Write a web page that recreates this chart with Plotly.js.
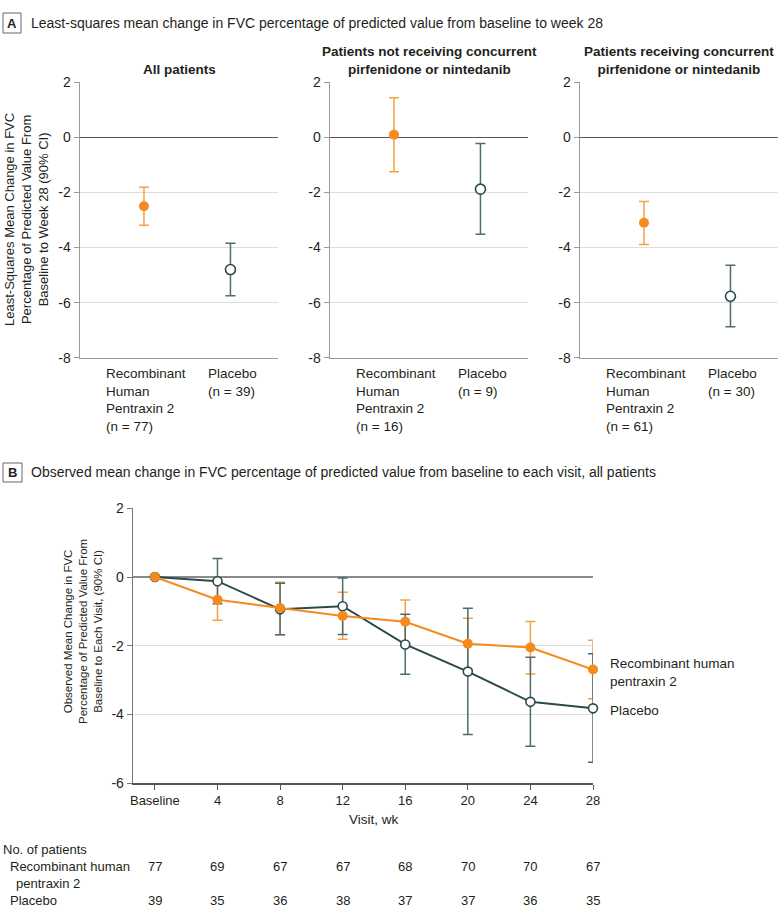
<!DOCTYPE html>
<html>
<head>
<meta charset="utf-8">
<script src="https://cdn.plot.ly/plotly-3.0.1.min.js"></script>
<style>html,body{margin:0;padding:0;background:#fff;}#chart{width:780px;height:919px;}</style>
</head>
<body>
<div id="chart"></div>
<script>
// ---------- Panel A data ----------
const groupTitlesA = ['All patients', 'Patients not receiving concurrent<br>pirfenidone or nintedanib', 'Patients receiving concurrent<br>pirfenidone or nintedanib'];
const armsA = ['Recombinant<br>Human<br>Pentraxin 2', 'Placebo'];
const rhpMeanA = [-2.50, 0.10, -3.10];
const rhpLowA  = [-3.19, -1.25, -3.89];
const rhpHighA = [-1.81, 1.44, -2.33];
const pboMeanA = [-4.80, -1.88, -5.77];
const pboLowA  = [-5.75, -3.52, -6.88];
const pboHighA = [-3.84, -0.22, -4.64];
const rhpNA = [77, 16, 61];
const pboNA = [39, 9, 30];
const yTicksA = [-8, -6, -4, -2, 0, 2];
const yTickTextA = ['-8', '-6', '-4', '-2', '0', '2'];

// ---------- Panel B data ----------
const visitWeeks = [0, 4, 8, 12, 16, 20, 24, 28];
const visitLabels = ['Baseline', '4', '8', '12', '16', '20', '24', '28'];
const rhpMeanB = [0, -0.66, -0.90, -1.13, -1.30, -1.94, -2.05, -2.69];
const rhpLowB  = [null, -1.26, -1.68, -1.81, -1.93, -2.68, -2.82, -3.54];
const rhpHighB = [null, -0.06, -0.15, -0.44, -0.67, -1.20, -1.29, -1.84];
const pboMeanB = [0, -0.12, -0.94, -0.85, -1.96, -2.75, -3.63, -3.82];
const pboLowB  = [null, -0.78, -1.68, -1.67, -2.83, -4.58, -4.92, -5.39];
const pboHighB = [null, 0.54, -0.18, -0.03, -1.08, -0.91, -2.33, -2.23];
const rhpNB = [77, 69, 67, 67, 68, 70, 70, 67];
const pboNB = [39, 35, 36, 38, 37, 37, 36, 35];
const yTicksB = [-6, -4, -2, 0, 2];
const yTickTextB = ['-6', '-4', '-2', '0', '2'];

// ---------- styling ----------
const W = 780, H = 919;
const px = v => v / W;
const py = v => 1 - v / H;
const ORANGE = '#F58A1F';
const ORANGE_ERR = '#F2A244';
const DARK = '#2C4A4C';
const DARK_ERR = '#4D6C6C';
const TXT = '#231f20';
const FONT = 'Liberation Sans, Arial, sans-serif';

const traces = [];
const annotations = [];
const shapes = [];
const layout = {
  width: W, height: H,
  margin: {l: 0, r: 0, t: 0, b: 0},
  paper_bgcolor: '#fff', plot_bgcolor: '#fff',
  showlegend: false,
  font: {family: FONT, size: 13, color: TXT},
  annotations: annotations, shapes: shapes
};

const domainsA = [[80, 278], [330, 528], [580, 778]];
domainsA.forEach((d, i) => {
  const sfx = i === 0 ? '' : String(i + 1);
  const xa = 'x' + sfx, ya = 'y' + sfx;
  layout['xaxis' + sfx] = {
    domain: [px(d[0]), px(d[1])], range: [-0.74, 1.55], anchor: ya,
    showline: true, linecolor: '#9a9a9a', linewidth: 1.5,
    showgrid: false, zeroline: false, showticklabels: false, ticks: '', fixedrange: true
  };
  layout['yaxis' + sfx] = {
    domain: [py(357.7), py(82.3)], range: [-8, 2], anchor: xa,
    tickvals: yTicksA, ticktext: yTickTextA, ticks: 'outside', ticklen: 5, tickcolor: '#9a9a9a', tickwidth: 1,
    showline: true, linecolor: '#9a9a9a', linewidth: 1.5,
    showgrid: true, gridcolor: '#dddddd', gridwidth: 1,
    zeroline: true, zerolinecolor: '#555', zerolinewidth: 1.3,
    tickfont: {size: 14, color: TXT}, fixedrange: true
  };
  traces.push({
    type: 'scatter', mode: 'markers', xaxis: xa, yaxis: ya,
    x: [0], y: [rhpMeanA[i]],
    error_y: {type: 'data', symmetric: false, array: [rhpHighA[i] - rhpMeanA[i]], arrayminus: [rhpMeanA[i] - rhpLowA[i]], color: ORANGE_ERR, thickness: 1.5, width: 5},
    marker: {size: 10, color: ORANGE, line: {width: 0}}, cliponaxis: false
  });
  traces.push({
    type: 'scatter', mode: 'markers', xaxis: xa, yaxis: ya,
    x: [1], y: [pboMeanA[i]],
    error_y: {type: 'data', symmetric: false, array: [pboHighA[i] - pboMeanA[i]], arrayminus: [pboMeanA[i] - pboLowA[i]], color: DARK_ERR, thickness: 1.5, width: 5},
    marker: {size: 10, color: '#fff', line: {width: 1.6, color: DARK}}, cliponaxis: false
  });
  annotations.push({
    xref: 'paper', yref: 'paper', x: px((d[0] + d[1]) / 2), y: py(i === 0 ? 69 : 60.5),
    text: '<b>' + groupTitlesA[i] + '</b>', showarrow: false, xanchor: 'center', yanchor: 'middle',
    font: {size: 13.5, color: TXT}
  });
  annotations.push({
    xref: xa, yref: 'paper', x: 0, xshift: -40, y: py(364), xanchor: 'left', yanchor: 'top', align: 'left',
    text: armsA[0] + '<br>(n = ' + rhpNA[i] + ')', showarrow: false, font: {size: 13.5, color: TXT}
  });
  annotations.push({
    xref: xa, yref: 'paper', x: 1, xshift: -24, y: py(364), xanchor: 'left', yanchor: 'top', align: 'left',
    text: armsA[1] + '<br>(n = ' + pboNA[i] + ')', showarrow: false, font: {size: 13.5, color: TXT}
  });
});

// Panel A header & y title
shapes.push({type: 'rect', xref: 'paper', yref: 'paper', x0: px(3), x1: px(21), y0: py(33), y1: py(13), line: {color: '#666', width: 1}, fillcolor: '#fff'});
annotations.push({xref: 'paper', yref: 'paper', x: px(12), y: py(23.5), text: '<b>A</b>', showarrow: false, xanchor: 'center', yanchor: 'middle', font: {size: 13, color: TXT}});
annotations.push({xref: 'paper', yref: 'paper', x: px(29), y: py(23), text: 'Least-squares mean change in FVC percentage of predicted value from baseline to week 28', showarrow: false, xanchor: 'left', yanchor: 'middle', font: {size: 14, color: TXT}});
annotations.push({xref: 'paper', yref: 'paper', x: px(26), y: py(220), textangle: -90, text: 'Least-Squares Mean Change in FVC<br>Percentage of Predicted Value From<br>Baseline to Week 28 (90% CI)', showarrow: false, xanchor: 'center', yanchor: 'middle', font: {size: 13, color: TXT}});

// ---------- Panel B ----------
layout.xaxis4 = {
  domain: [px(133), px(593)], range: [-1.4, 28], anchor: 'y4',
  tickvals: visitWeeks, ticktext: visitLabels, ticks: 'outside', ticklen: 5, tickcolor: '#555', tickwidth: 1,
  showline: true, linecolor: '#555', linewidth: 1.3, showgrid: false, zeroline: false,
  tickfont: {size: 13, color: TXT}, fixedrange: true
};
layout.yaxis4 = {
  domain: [py(783.3), py(508.3)], range: [-6, 2], anchor: 'x4',
  tickvals: yTicksB, ticktext: yTickTextB, ticks: 'outside', ticklen: 5, tickcolor: '#777', tickwidth: 1,
  showline: true, linecolor: '#777', linewidth: 1.3,
  showgrid: true, gridcolor: '#dddddd', gridwidth: 1,
  zeroline: true, zerolinecolor: '#8a8a8a', zerolinewidth: 1.5,
  tickfont: {size: 14, color: TXT}, fixedrange: true
};
const errArr = (hi, m) => hi.map((v, k) => v === null ? null : v - m[k]);
const errMinus = (lo, m) => lo.map((v, k) => v === null ? null : m[k] - v);
// RhP error bars (drawn beneath placebo)
traces.push({
  type: 'scatter', mode: 'markers', xaxis: 'x4', yaxis: 'y4',
  x: visitWeeks, y: rhpMeanB,
  error_y: {type: 'data', symmetric: false, array: errArr(rhpHighB, rhpMeanB), arrayminus: errMinus(rhpLowB, rhpMeanB), color: ORANGE_ERR, thickness: 1.5, width: 5},
  marker: {size: 2, color: 'rgba(0,0,0,0)'}, cliponaxis: false
});
traces.push({
  type: 'scatter', mode: 'lines+markers', xaxis: 'x4', yaxis: 'y4',
  x: visitWeeks, y: pboMeanB,
  error_y: {type: 'data', symmetric: false, array: errArr(pboHighB, pboMeanB), arrayminus: errMinus(pboLowB, pboMeanB), color: DARK_ERR, thickness: 1.5, width: 5},
  line: {color: DARK, width: 2},
  marker: {size: 9, color: '#fff', line: {width: 1.6, color: DARK}}, cliponaxis: false
});
traces.push({
  type: 'scatter', mode: 'lines+markers', xaxis: 'x4', yaxis: 'y4',
  x: visitWeeks, y: rhpMeanB,
  line: {color: ORANGE, width: 2},
  marker: {size: 10, color: ORANGE}, cliponaxis: false
});

shapes.push({type: 'rect', xref: 'paper', yref: 'paper', x0: px(3), x1: px(22), y0: py(482), y1: py(463), line: {color: '#666', width: 1}, fillcolor: '#fff'});
annotations.push({xref: 'paper', yref: 'paper', x: px(12.5), y: py(472.5), text: '<b>B</b>', showarrow: false, xanchor: 'center', yanchor: 'middle', font: {size: 13, color: TXT}});
annotations.push({xref: 'paper', yref: 'paper', x: px(29), y: py(471.5), text: 'Observed mean change in FVC percentage of predicted value from baseline to each visit, all patients', showarrow: false, xanchor: 'left', yanchor: 'middle', font: {size: 14, color: TXT}});
annotations.push({xref: 'paper', yref: 'paper', x: px(83), y: py(632), textangle: -90, text: 'Observed Mean Change in FVC<br>Percentage of Predicted Value From<br>Baseline to Each Visit, (90% CI)', showarrow: false, xanchor: 'center', yanchor: 'middle', font: {size: 11.5, color: TXT}});
annotations.push({xref: 'paper', yref: 'paper', x: px(374), y: py(819), text: 'Visit, wk', showarrow: false, xanchor: 'center', yanchor: 'middle', font: {size: 13.5, color: TXT}});
annotations.push({xref: 'paper', yref: 'paper', x: px(608), y: py(672.5), text: 'Recombinant human<br>pentraxin 2', showarrow: false, xanchor: 'left', yanchor: 'middle', align: 'left', font: {size: 13.5, color: TXT}});
annotations.push({xref: 'paper', yref: 'paper', x: px(608), y: py(710), text: 'Placebo', showarrow: false, xanchor: 'left', yanchor: 'middle', align: 'left', font: {size: 13.5, color: TXT}});

// number at risk table
annotations.push({xref: 'paper', yref: 'paper', x: px(1), y: py(849), text: 'No. of patients', showarrow: false, xanchor: 'left', yanchor: 'middle', font: {size: 13, color: TXT}});
annotations.push({xref: 'paper', yref: 'paper', x: px(8), y: py(866), text: 'Recombinant human', showarrow: false, xanchor: 'left', yanchor: 'middle', font: {size: 13, color: TXT}});
annotations.push({xref: 'paper', yref: 'paper', x: px(14), y: py(883), text: 'pentraxin 2', showarrow: false, xanchor: 'left', yanchor: 'middle', font: {size: 13, color: TXT}});
annotations.push({xref: 'paper', yref: 'paper', x: px(8), y: py(900), text: 'Placebo', showarrow: false, xanchor: 'left', yanchor: 'middle', font: {size: 13, color: TXT}});
visitWeeks.forEach((w, k) => {
  annotations.push({xref: 'x4', yref: 'paper', x: w, y: py(866), text: String(rhpNB[k]), showarrow: false, xanchor: 'center', yanchor: 'middle', font: {size: 13, color: TXT}});
  annotations.push({xref: 'x4', yref: 'paper', x: w, y: py(900), text: String(pboNB[k]), showarrow: false, xanchor: 'center', yanchor: 'middle', font: {size: 13, color: TXT}});
});

Plotly.newPlot('chart', traces, layout, {staticPlot: true, displayModeBar: false});
</script>
</body>
</html>
